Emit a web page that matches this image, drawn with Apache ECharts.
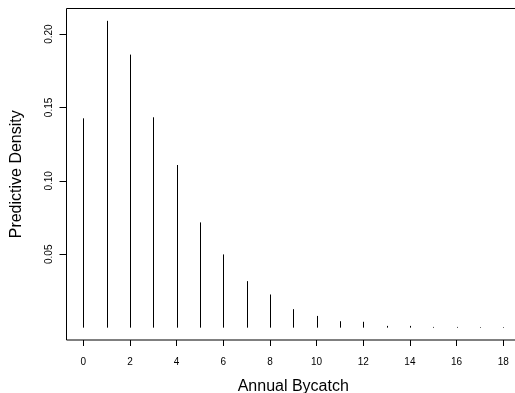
<!DOCTYPE html>
<html>
<head>
<meta charset="utf-8">
<script src="https://cdn.jsdelivr.net/npm/echarts@6/dist/echarts.min.js"></script>
<style>html,body{margin:0;padding:0;background:#fff}#c{width:515px;height:393px}</style>
</head>
<body>
<div id="c"></div>
<script>
var bycatch = [0,1,2,3,4,5,6,7,8,9,10,11,12,13,14,15,16,17,18];
var density = [0.1426,0.2090,0.1860,0.1433,0.1108,0.0717,0.0499,0.0317,0.0226,0.0126,0.0080,0.0044,0.0040,0.0012,0.0012,0.0005,0.0005,0.0004,0.0004];
var xTicks = [0,2,4,6,8,10,12,14,16,18];
var yTicks = [0.05,0.10,0.15,0.20];

var chart = echarts.init(document.getElementById('c'), null, {renderer:'canvas'});
var font = 'Liberation Sans, Arial, Helvetica, sans-serif';
chart.setOption({
  animation:false,
  backgroundColor:'#fff',
  grid:{left:66.5, width:453.5, top:8.5, height:331.5, show:true, borderColor:'#000', borderWidth:1, backgroundColor:'transparent', containLabel:false, outerBoundsMode:'none'},
  xAxis:{
    type:'value', min:-0.72, max:18.72,
    name:'Annual Bycatch', nameLocation:'middle', nameGap:39,
    nameTextStyle:{fontFamily:font, fontSize:16, color:'#000'},
    axisLine:{show:false, onZero:false},
    splitLine:{show:false},
    axisTick:{show:true, inside:false, length:6, lineStyle:{color:'#000', width:1}, customValues:xTicks},
    axisLabel:{show:true, margin:17, fontFamily:font, fontSize:10, color:'#000', customValues:xTicks,
      formatter:function(v){return String(v);}}
  },
  yAxis:{
    type:'value', min:-0.0084, max:0.2174,
    name:'Predictive Density', nameLocation:'middle', nameGap:42,
    nameTextStyle:{fontFamily:font, fontSize:16, color:'#000'},
    axisLine:{show:false, onZero:false},
    splitLine:{show:false},
    axisTick:{show:true, inside:false, length:7, lineStyle:{color:'#000', width:1}, customValues:yTicks},
    axisLabel:{show:true, rotate:90, margin:12, fontFamily:font, fontSize:10, color:'#000', customValues:yTicks,
      formatter:function(v){return v.toFixed(2);}}
  },
  series:[{
    type:'custom',
    data: bycatch.map(function(x,i){return [x, density[i]];}),
    renderItem:function(params, api){
      var top = api.coord([api.value(0), api.value(1)]);
      var base = api.coord([api.value(0), 0]);
      var x = Math.round(top[0]) + 0.5;
      return {type:'line', shape:{x1:x, y1:base[1], x2:x, y2:top[1]},
        style:{stroke:'#000', lineWidth:1}};
    }
  }]
});
</script>
</body>
</html>
